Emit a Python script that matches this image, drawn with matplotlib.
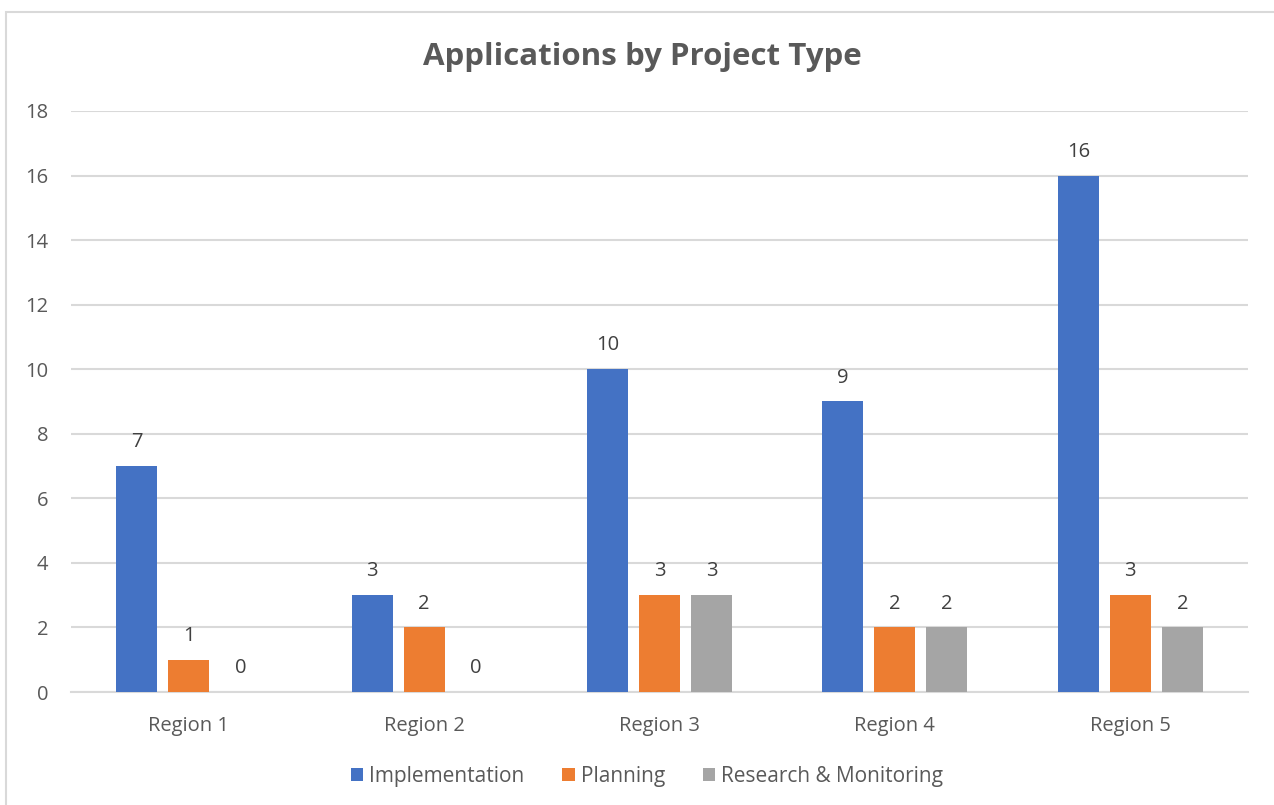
import numpy as np
import matplotlib
matplotlib.use("Agg")
import matplotlib.pyplot as plt
from matplotlib.patches import Rectangle

regions = ["Region 1", "Region 2", "Region 3", "Region 4", "Region 5"]
series_names = ["Implementation", "Planning", "Research & Monitoring"]
implementation = [7, 3, 10, 9, 16]
planning = [1, 2, 3, 2, 3]
research = [0, 0, 3, 2, 2]
colors = ["#4472C4", "#ED7D31", "#A5A5A5"]

plt.rcParams['font.family'] = ['Open Sans', 'DejaVu Sans']

fig = plt.figure(figsize=(12.74, 8.05), dpi=100)
ax = fig.add_axes([71/1274, 1 - 692/805, (1248 - 71)/1274, (692 - 111)/805])

# chart border (light gray, cut off on the right/bottom like the source)
fig.patches.append(Rectangle((6/1274, -0.05), 1.2, 1.05 - 12/805,
                             transform=fig.transFigure, fill=False,
                             edgecolor="#d9d9d9", linewidth=1.5))

x = np.arange(len(regions))
width = 0.174
step = 0.221
for i, (vals, name) in enumerate(zip([implementation, planning, research], series_names)):
    pos = x + (i - 1) * step
    ax.bar(pos, vals, width, color=colors[i], label=name, zorder=3)
    for p, v in zip(pos, vals):
        ax.annotate(str(v), (p, v), xytext=(0, 10), textcoords="offset points",
                    ha="center", va="bottom", fontsize=14.5, color="#404040")

ax.set_xlim(-0.5, len(regions) - 0.5)
ax.set_ylim(0, 18)
ax.set_yticks(range(0, 19, 2))
ax.set_xticks(x)
ax.set_xticklabels(regions)
ax.yaxis.grid(True, color="#d9d9d9", linewidth=1.5, zorder=0)
ax.set_axisbelow(True)
for s in ["top", "right", "left"]:
    ax.spines[s].set_visible(False)
ax.spines["bottom"].set_color("#d9d9d9")
ax.spines["bottom"].set_linewidth(1.5)
ax.tick_params(axis="both", length=0, labelsize=14.5, labelcolor="#595959")
ax.tick_params(axis="y", pad=16.5)
ax.tick_params(axis="x", pad=17)

fig.text(642/1274, 1 - 57/805, "Applications by Project Type", ha="center", va="center",
         fontsize=22.5, fontweight="bold", color="#595959")

fig.legend(loc="center", bbox_to_anchor=(647/1274, 1 - 776/805), ncol=3, frameon=False,
           fontsize=15, handlelength=0.6, handleheight=0.6, handletextpad=0.3,
           columnspacing=1.8, labelcolor="#595959")

fig.savefig("out.png", dpi=100)
